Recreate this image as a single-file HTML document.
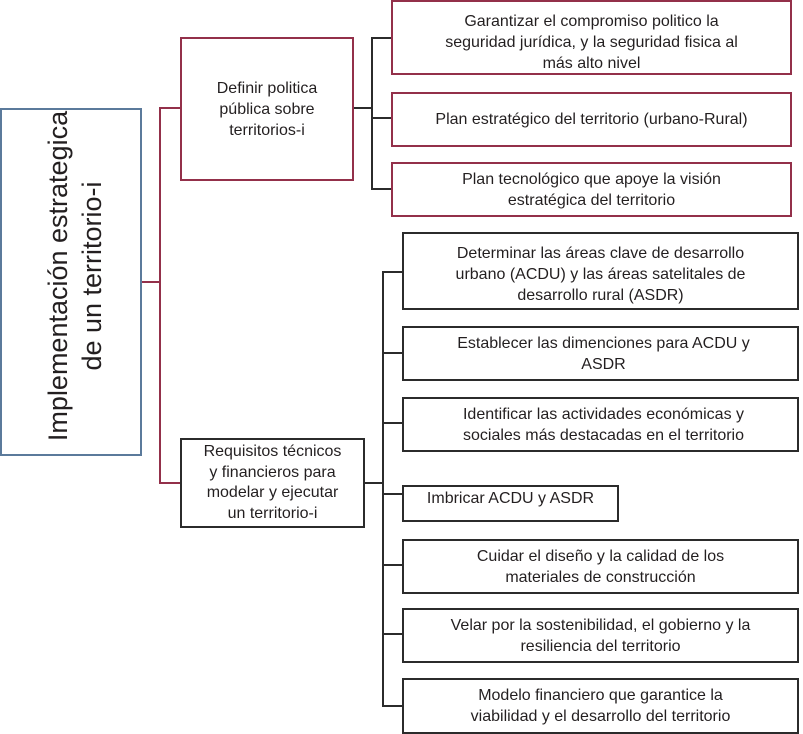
<!DOCTYPE html>
<html>
<head>
<meta charset="utf-8">
<style>
  html, body { margin:0; padding:0; background:#fff; }
  body { width:803px; height:734px; position:relative; overflow:hidden;
         font-family:"Liberation Sans", Arial, sans-serif; color:#231f20; }
  .b { position:absolute; box-sizing:border-box; display:flex; align-items:center;
       justify-content:center; text-align:center; font-size:16px; line-height:21px;
       background:#fff; }
  .r { border:2px solid #93304a; }
  .k { border:2px solid #2b2b2b; }
  svg { position:absolute; left:0; top:0; }
</style>
</head>
<body>
<svg width="803" height="734" viewBox="0 0 803 734">
  <!-- main box -->
  <rect x="1" y="109" width="140" height="346" fill="#fff" stroke="#5b7a9b" stroke-width="2"/>
  <text transform="translate(67,276) rotate(-90)" text-anchor="middle" font-family="Liberation Sans, Arial, sans-serif" font-size="27" fill="#231f20">Implementación estrategica</text>
  <text transform="translate(101,276) rotate(-90)" text-anchor="middle" font-family="Liberation Sans, Arial, sans-serif" font-size="27" fill="#231f20">de un territorio-i</text>
  <!-- red connectors -->
  <g stroke="#93304a" stroke-width="2" fill="none">
    <line x1="142" y1="282" x2="160" y2="282"/>
    <line x1="160" y1="107" x2="160" y2="484"/>
    <line x1="160" y1="108" x2="181" y2="108"/>
    <line x1="160" y1="483" x2="181" y2="483"/>
  </g>
  <!-- black connectors top -->
  <g stroke="#2b2b2b" stroke-width="2" fill="none">
    <line x1="353" y1="108" x2="372" y2="108"/>
    <line x1="372" y1="37" x2="372" y2="190"/>
    <line x1="372" y1="38" x2="392" y2="38"/>
    <line x1="372" y1="118" x2="392" y2="118"/>
    <line x1="372" y1="189" x2="392" y2="189"/>
  </g>
  <!-- black connectors bottom -->
  <g stroke="#2b2b2b" stroke-width="2" fill="none">
    <line x1="364" y1="483" x2="383" y2="483"/>
    <line x1="383" y1="271" x2="383" y2="707"/>
    <line x1="383" y1="272" x2="403" y2="272"/>
    <line x1="383" y1="353" x2="403" y2="353"/>
    <line x1="383" y1="423" x2="403" y2="423"/>
    <line x1="383" y1="494" x2="403" y2="494"/>
    <line x1="383" y1="565" x2="403" y2="565"/>
    <line x1="383" y1="634" x2="403" y2="634"/>
    <line x1="383" y1="706" x2="403" y2="706"/>
  </g>
</svg>

<div class="b r" style="left:180px;top:37px;width:174px;height:144px;">Definir politica<br>pública sobre<br>territorios-i</div>
<div class="b k" style="left:180px;top:438px;width:185px;height:90px;line-height:20.5px;">Requisitos técnicos<br>y financieros para<br>modelar y ejecutar<br>un territorio-i</div>

<div class="b r" style="left:391px;top:0px;width:401px;height:75px;padding-top:9px;">Garantizar el compromiso politico la<br>seguridad jurídica, y la seguridad fisica al<br>más alto nivel</div>
<div class="b r" style="left:391px;top:92px;width:401px;height:55px;">Plan estratégico del territorio (urbano-Rural)</div>
<div class="b r" style="left:391px;top:162px;width:401px;height:55px;">Plan tecnológico que apoye la visión<br>estratégica del territorio</div>

<div class="b k" style="left:402px;top:232px;width:397px;height:78px;padding-top:6px;">Determinar las áreas clave de desarrollo<br>urbano (ACDU) y las áreas satelitales de<br>desarrollo rural (ASDR)</div>
<div class="b k" style="left:402px;top:326px;width:397px;height:55px;padding-left:6px;">Establecer las dimenciones para ACDU y<br>ASDR</div>
<div class="b k" style="left:402px;top:397px;width:397px;height:55px;padding-left:6px;">Identificar las actividades económicas y<br>sociales más destacadas en el territorio</div>
<div class="b k" style="left:402px;top:485px;width:217px;height:37px;padding-bottom:10px;">Imbricar ACDU y ASDR</div>
<div class="b k" style="left:402px;top:539px;width:397px;height:55px;">Cuidar el diseño y la calidad de los<br>materiales de construcción</div>
<div class="b k" style="left:402px;top:608px;width:397px;height:55px;">Velar por la sostenibilidad, el gobierno y la<br>resiliencia del territorio</div>
<div class="b k" style="left:402px;top:678px;width:397px;height:56px;">Modelo financiero que garantice la<br>viabilidad y el desarrollo del territorio</div>
</body>
</html>
